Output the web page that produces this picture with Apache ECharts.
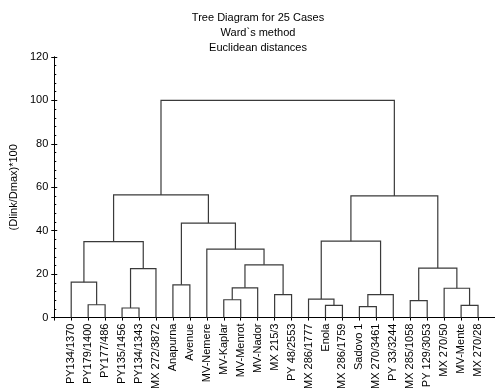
<!DOCTYPE html>
<html>
<head>
<meta charset="utf-8">
<script src="https://cdn.jsdelivr.net/npm/echarts@6/dist/echarts.min.js"></script>
<style>html,body{margin:0;padding:0;background:#fff;}#c{width:495px;height:392px;}</style>
</head>
<body>
<div id="c"></div>
<script>
// Leaf labels in dendrogram order
var leaves = ['PY134/1370','PY179/1400','PY177/486','PY135/1456','PY134/1343','MX 272/3872',
  'Anapurna','Avenue','MV-Nemere','MV-Kaplar','MV-Menrot','MV-Nador','MX 215/3','PY 48/2553',
  'MX 286/1777','Enola','MX 286/1759','Sadovo 1','MX 270/3461','PY 33/3244','MX 285/1058',
  'PY 129/3053','MX 270/50','MV-Mente','MX 270/28'];
// Merges: node ids 0..24 are leaves, 25+k is merge k
var mergeA = [1, 0, 3, 5, 26, 6, 9, 31, 12, 32, 8, 30, 29, 15, 14, 17, 40, 39, 20, 23, 22, 43, 42, 37];
var mergeB = [2, 25, 4, 27, 28, 7, 10, 11, 13, 33, 34, 35, 36, 16, 38, 18, 19, 41, 21, 24, 44, 45, 46, 47];
var mergeHeight = [5.9, 16.3, 4.4, 22.5, 35.0, 15.1, 8.2, 13.7, 10.6, 24.3, 31.5, 43.5, 56.5,
  5.6, 8.5, 5.0, 10.6, 35.2, 7.8, 5.6, 13.5, 22.8, 56.0, 100];
var yTicks = [0, 20, 40, 60, 80, 100, 120];

var n = leaves.length;
var nodeX = [], nodeH = [];
for (var i = 0; i < n; i++) { nodeX.push(i + 1); nodeH.push(0); }
var segs = [];
for (var k = 0; k < mergeA.length; k++) {
  var a = mergeA[k], b = mergeB[k], h = mergeHeight[k];
  segs.push([nodeX[a], nodeH[a], nodeX[b], nodeH[b], h]);
  nodeX.push((nodeX[a] + nodeX[b]) / 2);
  nodeH.push(h);
}

var font = '"Liberation Sans", Arial, sans-serif';
var chart = echarts.init(document.getElementById('c'));
chart.setOption({
  animation: false,
  backgroundColor: '#fff',
  title: {
    text: 'Tree Diagram for 25 Cases\nWard`s method\nEuclidean distances',
    left: 253, top: 5, textAlign: 'center',
    textStyle: { fontFamily: font, fontSize: 11, fontWeight: 'normal', color: '#000', lineHeight: 15 }
  },
  grid: { left: 52, right: -2, top: 57, bottom: 73, containLabel: false },
  xAxis: [{
    type: 'value', min: 0, max: n + 1, interval: 1, position: 'bottom',
    axisLine: { show: true, lineStyle: { color: '#000', width: 1 } },
    axisTick: { show: false },
    splitLine: { show: false },
    axisLabel: {
      rotate: 90, fontFamily: font, fontSize: 11, color: '#000', margin: 6,
      formatter: function (v) { return leaves[v - 1] || ''; }
    }
  }, {
    type: 'value', min: 0, max: n + 1, interval: 1, position: 'top',
    axisLine: { show: true, lineStyle: { color: '#000', width: 1 } },
    axisTick: { show: true, inside: true, length: 3, lineStyle: { color: '#000' } },
    axisLabel: { show: false }, splitLine: { show: false }
  }],
  yAxis: [{
    type: 'value', min: 0, max: 120, interval: 20, position: 'left',
    name: '(Dlink/Dmax)*100', nameLocation: 'middle', nameGap: 28, nameRotate: 90,
    nameTextStyle: { fontFamily: font, fontSize: 11, color: '#000' },
    axisLine: { show: true, lineStyle: { color: '#000', width: 1 } },
    axisTick: { show: true, inside: true, length: 3, lineStyle: { color: '#000' } },
    minorTick: { show: true, splitNumber: 5, length: 2, lineStyle: { color: '#000' } },
    splitLine: { show: false },
    axisLabel: { fontFamily: font, fontSize: 11, color: '#000', margin: 6,
      formatter: function (v) { return yTicks.indexOf(v) >= 0 ? String(v) : ''; } }
  }, {
    type: 'value', min: 0, max: 120, interval: 20, position: 'right',
    axisLine: { show: true, lineStyle: { color: '#000', width: 1 } },
    axisTick: { show: true, inside: true, length: 3, lineStyle: { color: '#000' } },
    axisLabel: { show: false }, splitLine: { show: false }
  }],
  series: [{
    type: 'custom',
    xAxisIndex: 0, yAxisIndex: 0,
    dimensions: ['xa', 'ha', 'xb', 'hb', 'h'],
    encode: { x: [0, 2], y: [1, 3, 4] },
    data: segs,
    renderItem: function (params, api) {
      var p1 = api.coord([api.value(0), api.value(1)]);
      var p2 = api.coord([api.value(0), api.value(4)]);
      var p3 = api.coord([api.value(2), api.value(4)]);
      var p4 = api.coord([api.value(2), api.value(3)]);
      return {
        type: 'polyline',
        shape: { points: [p1, p2, p3, p4] },
        style: { stroke: '#3a3a3a', fill: null, lineWidth: 1.2 }
      };
    }
  }]
});
</script>
</body>
</html>
